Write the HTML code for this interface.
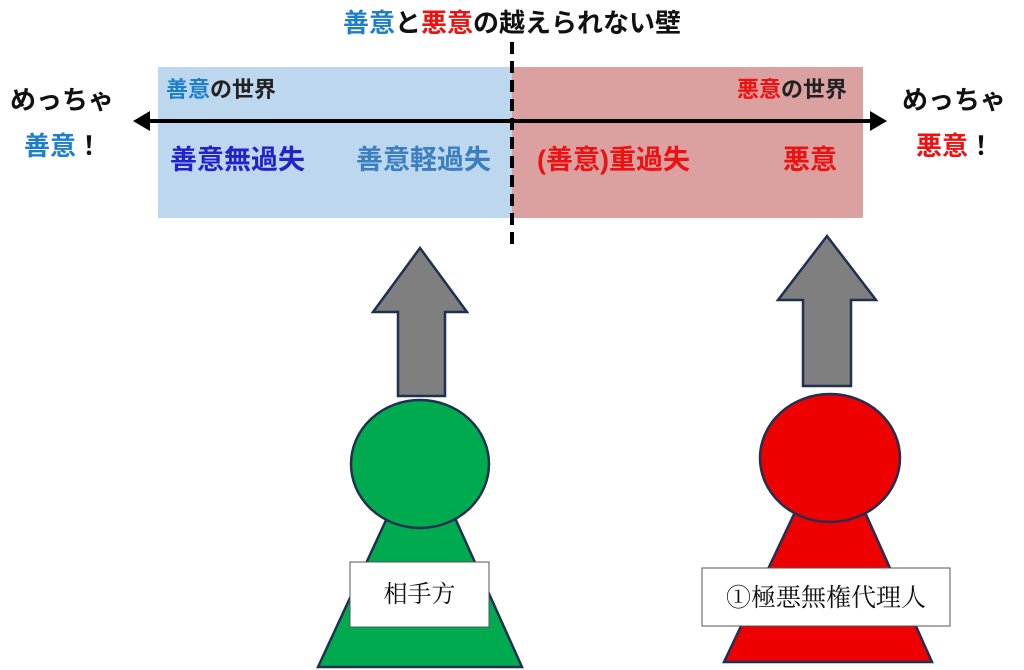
<!DOCTYPE html>
<html><head><meta charset="utf-8"><style>
body{margin:0;width:1024px;height:670px;background:#fff;overflow:hidden;position:relative;font-family:"Liberation Sans","Noto Sans CJK JP",sans-serif}
.t{position:absolute;font-weight:bold;white-space:nowrap;line-height:1}
</style></head><body>
<svg width="1024" height="670" style="position:absolute;left:0;top:0">
<rect x="158" y="67" width="354" height="151" fill="#bdd7ee"/>
<rect x="512" y="67" width="351" height="151" fill="#dba0a0"/>
<line x1="512" y1="42" x2="512" y2="245" stroke="#000" stroke-width="4" stroke-dasharray="12,7"/>
<line x1="145" y1="121" x2="875" y2="121" stroke="#000" stroke-width="4"/>
<polygon points="133,121 150,111 150,131" fill="#000"/>
<polygon points="887,121 870,111 870,131" fill="#000"/>
<g stroke="#1f3050" stroke-width="2.5">
<polygon points="420,248 467,312 445,312 445,396 398,396 398,312 373,312" fill="#7f7f7f"/>
<polygon points="387,518 455,518 522,667 318,667" fill="#00aa4f"/>
<ellipse cx="420" cy="464" rx="69" ry="64" fill="#00aa4f"/>
<polygon points="827,236 876,300 851,300 851,386 803,386 803,300 778,300" fill="#7f7f7f"/>
<polygon points="796,510 864,510 932,662 724,662" fill="#ee0000"/>
<ellipse cx="830" cy="458" rx="70" ry="64" fill="#ee0000"/>
</g>
<rect x="350" y="562" width="139" height="65" fill="#fff" stroke="#555" stroke-width="1"/>
<rect x="702" y="568" width="248" height="58" fill="#fff" stroke="#555" stroke-width="1"/>
</svg>
<div class="t" style="left:0;width:1024px;top:10px;text-align:center;font-size:26px;color:#111"><span style="color:#1b7fcc">善意</span>と<span style="color:#ee1111">悪意</span>の越えられない壁</div>
<div class="t" style="left:166px;top:79px;font-size:22px;color:#222"><span style="color:#1b7fcc">善意</span>の世界</div>
<div class="t" style="left:737px;top:79px;font-size:22px;color:#222"><span style="color:#ee1111">悪意</span>の世界</div>
<div class="t" style="left:10px;top:87px;font-size:26px;color:#111">めっちゃ</div>
<div class="t" style="left:24px;top:133px;font-size:26px;color:#111"><span style="color:#1b7fcc">善意</span>！</div>
<div class="t" style="left:902px;top:87px;font-size:26px;color:#111">めっちゃ</div>
<div class="t" style="left:916px;top:133px;font-size:26px;color:#111"><span style="color:#ee1111">悪意</span>！</div>
<div class="t" style="left:170px;top:147px;font-size:27px;color:#2222cc">善意無過失</div>
<div class="t" style="left:356px;top:147px;font-size:27px;color:#3b7fc0">善意軽過失</div>
<div class="t" style="left:537px;top:147px;font-size:27px;color:#ee1111">(善意)重過失</div>
<div class="t" style="left:783px;top:147px;font-size:27px;color:#ee1111">悪意</div>
<div class="t" style="left:350px;width:139px;top:580px;text-align:center;font-size:24px;font-weight:normal;color:#111;font-family:'Noto Serif CJK SC',serif">相手方</div>
<div class="t" style="left:702px;width:248px;top:584px;text-align:center;font-size:25px;font-weight:normal;color:#111;font-family:'Noto Serif CJK SC',serif">①極悪無権代理人</div>
</body></html>
